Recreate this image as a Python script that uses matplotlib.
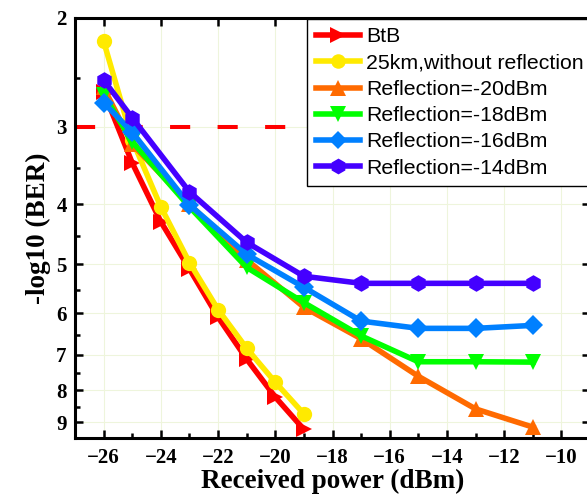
import matplotlib
matplotlib.use("Agg")
import matplotlib.pyplot as plt
from matplotlib.ticker import NullFormatter, FixedLocator

# Datos
x_short = [-26, -25, -24, -23, -22, -21, -20, -19]
x_long = [-26, -25, -23, -21, -19, -17, -15, -13, -11]

btb = [2.63, 3.43, 4.27, 5.09, 6.09, 7.12, 8.2, 9.25]
km25 = [2.18, 3.15, 4.04, 4.97, 5.92, 6.84, 7.76, 8.73]
ref20 = [2.59, 3.2, 4.0, 4.92, 5.87, 6.6, 7.59, 8.57, 9.17]
ref18 = [2.66, 3.17, 4.04, 5.06, 5.77, 6.53, 7.19, 7.19, 7.2]
ref16 = [2.74, 3.06, 4.01, 4.82, 5.45, 6.18, 6.35, 6.35, 6.28]
ref14 = [2.52, 2.90, 3.82, 4.61, 5.23, 5.37, 5.37, 5.37, 5.37]

labels = ["BtB", "25km,without reflection", "Reflection=-20dBm",
          "Reflection=-18dBm", "Reflection=-16dBm", "Reflection=-14dBm"]

y_ticks = [2, 3, 4, 5, 6, 7, 8, 9]
x_ticks = [-26, -24, -22, -20, -18, -16, -14, -12, -10]

plt.rcParams["font.family"] = "Liberation Serif"
plt.rcParams["font.weight"] = "bold"
plt.rcParams["axes.labelweight"] = "bold"

fig = plt.figure(figsize=(5.87, 4.94), dpi=100)
ax = fig.add_axes([75 / 587, 1 - 438 / 494, 515 / 587, 420 / 494])

series = [
    (x_short, btb, "#ff0000", ">", 12),
    (x_short, km25, "#ffea00", "o", 11),
    (x_long, ref20, "#ff6a00", "^", 12),
    (x_long, ref18, "#00ff00", "v", 12),
    (x_long, ref16, "#0080ff", "D", 10),
    (x_long, ref14, "#4400ff", "h", 12),
]
for (xs, ys, c, m, ms), lab in zip(series, labels):
    ax.plot(xs, ys, color=c, marker=m, markersize=ms, lw=4,
            markeredgewidth=0, label=lab, zorder=3)

# Umbral FEC
ax.axhline(3, color="#ff0000", lw=2.9, dashes=(5, 6.8), zorder=2)

ax.set_yscale("log")
ax.set_ylim(9.55, 2)
ax.set_xlim(-27, -9)
ax.yaxis.set_major_locator(FixedLocator(y_ticks))
ax.yaxis.set_minor_locator(FixedLocator([v + 0.5 for v in y_ticks[:-1]]))
ax.yaxis.set_minor_formatter(NullFormatter())
ax.set_yticklabels([str(v) for v in y_ticks])
ax.set_xticks(x_ticks)
ax.set_xticks(list(range(-27, -9, 2)), minor=True)

ax.grid(True, which="major", color="#eef5dc", lw=0.8, zorder=0)

for s in ax.spines.values():
    s.set_linewidth(2.2)

ax.tick_params(which="both", direction="in", width=1.8, labelsize=15)
ax.tick_params(which="major", length=6, top=True, right=True)
ax.tick_params(which="minor", length=3.5)
ax.tick_params(axis="x", which="major", pad=7)
ax.tick_params(axis="y", which="major", pad=6)

ax.set_xlabel("Received power (dBm)", fontsize=19.5, fontweight="bold",
              labelpad=1)
ax.set_ylabel("-log10 (BER)", fontsize=19.5, fontweight="bold", labelpad=4)

leg = fig.legend(loc="upper left", bbox_to_anchor=(307 / 587, 1 - 19 / 494),
                 borderaxespad=0, fancybox=False, framealpha=1,
                 edgecolor="black", handlelength=2.1, handletextpad=0.3,
                 labelspacing=0.34, borderpad=0.4, markerscale=0.95,
                 prop={"family": "Liberation Sans", "weight": "normal",
                       "size": 15.3})
leg.get_frame().set_linewidth(1.0)
leg.set_zorder(5)

fig.savefig("out.png", dpi=100)
